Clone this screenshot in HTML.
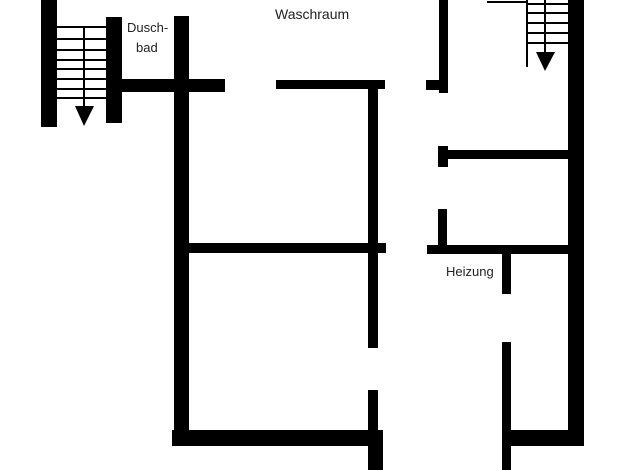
<!DOCTYPE html>
<html><head><style>
body{margin:0;background:#fff;width:626px;height:470px;overflow:hidden;position:relative;font-family:"Liberation Sans",sans-serif;}
.w{position:absolute;background:#000;}
.t{position:absolute;font-size:13px;color:#222;}
</style></head><body>
<!-- left stairs -->
<div class="w" style="left:41px;top:0;width:16px;height:127px"></div>
<div class="w" style="left:106px;top:17px;width:16px;height:106px"></div>
<svg style="position:absolute;left:0;top:0" width="626" height="470">
<g stroke="#000" stroke-width="2">
<line x1="57" y1="27" x2="106" y2="27"/><line x1="57" y1="39" x2="106" y2="39"/>
<line x1="57" y1="50" x2="106" y2="50"/><line x1="57" y1="60" x2="106" y2="60"/>
<line x1="57" y1="69" x2="106" y2="69"/><line x1="57" y1="79" x2="106" y2="79"/>
<line x1="57" y1="89" x2="106" y2="89"/><line x1="57" y1="98" x2="106" y2="98"/>
<line x1="84" y1="27" x2="84" y2="108"/>
<line x1="487" y1="2" x2="528" y2="2"/>
<line x1="527" y1="0" x2="527" y2="67"/>
<line x1="527" y1="4" x2="569" y2="4"/><line x1="527" y1="13" x2="569" y2="13"/>
<line x1="527" y1="23" x2="569" y2="23"/><line x1="527" y1="33" x2="569" y2="33"/>
<line x1="527" y1="43" x2="569" y2="43"/>
<line x1="545" y1="0" x2="545" y2="55"/>
</g>
<polygon points="75,106 94,106 84,126" fill="#000"/>
<polygon points="536,52 555,52 545,71" fill="#000"/>
</svg>
<div class="t" style="left:127px;top:20px">Dusch-</div>
<div class="t" style="left:136px;top:40px">bad</div>
<div class="t" style="left:275px;top:6px;font-size:14px">Waschraum</div>
<div class="t" style="left:446px;top:264px">Heizung</div>
<!-- main left block -->
<div class="w" style="left:122px;top:79px;width:103px;height:13px"></div>
<div class="w" style="left:174px;top:16px;width:15px;height:430px"></div>
<div class="w" style="left:276px;top:80px;width:109px;height:9px"></div>
<div class="w" style="left:368px;top:80px;width:10px;height:268px"></div>
<div class="w" style="left:189px;top:243px;width:197px;height:10px"></div>
<div class="w" style="left:368px;top:390px;width:10px;height:45px"></div>
<div class="w" style="left:172px;top:430px;width:211px;height:16px"></div>
<div class="w" style="left:368px;top:430px;width:15px;height:40px"></div>
<!-- right block -->
<div class="w" style="left:439px;top:0;width:9px;height:93px"></div>
<div class="w" style="left:426px;top:80px;width:22px;height:10px"></div>
<div class="w" style="left:438px;top:146px;width:10px;height:21px"></div>
<div class="w" style="left:447px;top:150px;width:123px;height:9px"></div>
<div class="w" style="left:438px;top:209px;width:9px;height:40px"></div>
<div class="w" style="left:427px;top:245px;width:143px;height:9px"></div>
<div class="w" style="left:502px;top:254px;width:9px;height:40px"></div>
<div class="w" style="left:502px;top:342px;width:9px;height:128px"></div>
<div class="w" style="left:502px;top:430px;width:81px;height:16px"></div>
<div class="w" style="left:568px;top:0;width:16px;height:446px"></div>
</body></html>
